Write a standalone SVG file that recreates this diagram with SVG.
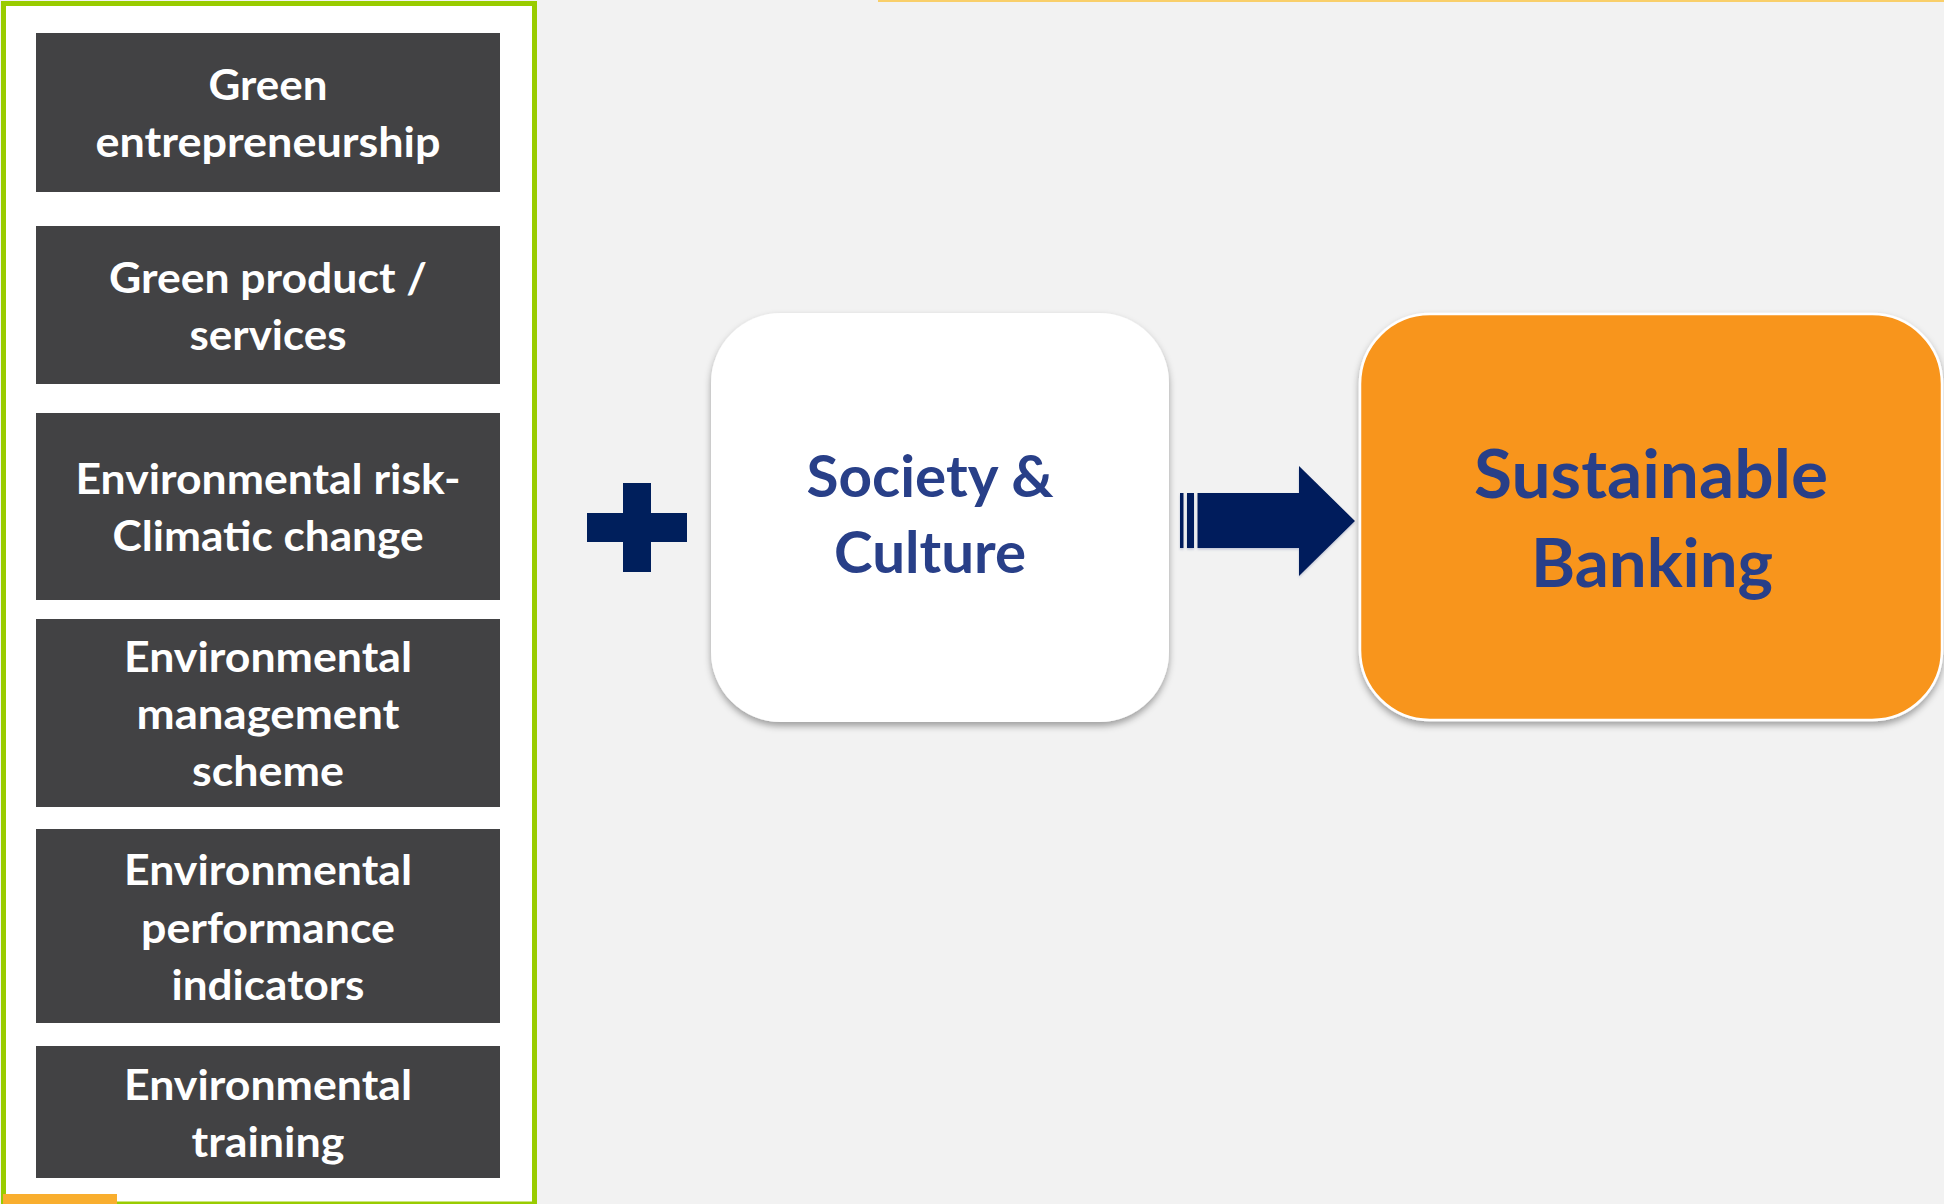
<svg xmlns="http://www.w3.org/2000/svg" width="1944" height="1204" viewBox="0 0 1944 1204">
  <style>
    .dark { fill: #424244; }
    .wt { font-family: Lato, "Open Sans", sans-serif; font-weight: 700; font-size: 42px; fill: #ffffff; text-anchor: middle; }
    .nt { font-family: Lato, "Open Sans", sans-serif; font-weight: 700; fill: #283f88; text-anchor: middle; }
    .navy { fill: #001f5c; }
  </style>
  <defs>
    <filter id="shadow" x="-10%" y="-10%" width="120%" height="125%">
      <feDropShadow dx="0" dy="4" stdDeviation="3.5" flood-color="#000000" flood-opacity="0.35"/>
    </filter>
    <filter id="ashadow" x="-10%" y="-10%" width="120%" height="130%">
      <feDropShadow dx="0" dy="1.5" stdDeviation="1" flood-color="#6070a0" flood-opacity="0.35"/>
    </filter>
  </defs>
  <rect x="0" y="0" width="1944" height="1204" fill="#f2f2f2"/>
  <rect x="878" y="0" width="1066" height="2" fill="#f9cf6a"/>

  <g id="frame">
    <rect x="3.5" y="3.5" width="531" height="1200.5" fill="#ffffff" stroke="#99cc00" stroke-width="5"/>
    <rect x="3" y="1194" width="114" height="10" fill="#f9ae2e"/>
  </g>

  <g id="node-green-entrepreneurship">
    <rect class="dark" x="36" y="33" width="464" height="159"/>
    <text class="wt" x="268" y="100" textLength="119" lengthAdjust="spacingAndGlyphs">Green</text>
    <text class="wt" x="268" y="157" textLength="345" lengthAdjust="spacingAndGlyphs">entrepreneurship</text>
  </g>
  <g id="node-green-product">
    <rect class="dark" x="36" y="226" width="464" height="158"/>
    <text class="wt" x="268" y="293" textLength="318" lengthAdjust="spacingAndGlyphs">Green product /</text>
    <text class="wt" x="268" y="350" textLength="157" lengthAdjust="spacingAndGlyphs">services</text>
  </g>
  <g id="node-env-risk">
    <rect class="dark" x="36" y="413" width="464" height="187"/>
    <text class="wt" x="268" y="494" textLength="385" lengthAdjust="spacingAndGlyphs">Environmental risk-</text>
    <text class="wt" x="268" y="551" textLength="311" lengthAdjust="spacingAndGlyphs">Climatic change</text>
  </g>
  <g id="node-env-management">
    <rect class="dark" x="36" y="619" width="464" height="188"/>
    <text class="wt" x="268" y="672" textLength="288" lengthAdjust="spacingAndGlyphs">Environmental</text>
    <text class="wt" x="268" y="729" textLength="263" lengthAdjust="spacingAndGlyphs">management</text>
    <text class="wt" x="268" y="786" textLength="152" lengthAdjust="spacingAndGlyphs">scheme</text>
  </g>
  <g id="node-env-performance">
    <rect class="dark" x="36" y="829" width="464" height="194"/>
    <text class="wt" x="268" y="885" textLength="288" lengthAdjust="spacingAndGlyphs">Environmental</text>
    <text class="wt" x="268" y="943" textLength="254" lengthAdjust="spacingAndGlyphs">performance</text>
    <text class="wt" x="268" y="1000" textLength="193" lengthAdjust="spacingAndGlyphs">indicators</text>
  </g>
  <g id="node-env-training">
    <rect class="dark" x="36" y="1046" width="464" height="132"/>
    <text class="wt" x="268" y="1100" textLength="288" lengthAdjust="spacingAndGlyphs">Environmental</text>
    <text class="wt" x="268" y="1157" textLength="153" lengthAdjust="spacingAndGlyphs">training</text>
  </g>

  <g id="plus">
    <rect class="navy" x="587" y="513" width="100" height="29"/>
    <rect class="navy" x="623" y="483" width="28" height="89"/>
  </g>

  <g id="node-society-culture">
    <rect x="711" y="313" width="458" height="409" rx="70" ry="70" fill="#ffffff" filter="url(#shadow)"/>
    <text class="nt" x="930" y="497" font-size="58" textLength="247" lengthAdjust="spacingAndGlyphs">Society &amp;</text>
    <text class="nt" x="930" y="573" font-size="58" textLength="192" lengthAdjust="spacingAndGlyphs">Culture</text>
  </g>

  <g id="connectors">
    <g id="arrow-society-to-banking" filter="url(#ashadow)">
      <rect class="navy" x="1180" y="493" width="3.5" height="55"/>
      <rect class="navy" x="1187" y="493" width="7" height="55"/>
      <polygon class="navy" points="1197.5,493 1299,493 1299,466 1355,521 1299,576 1299,548 1197.5,548"/>
    </g>
  </g>

  <g id="node-sustainable-banking">
    <rect x="1360" y="314" width="582" height="406" rx="70" ry="70" fill="#f8951b" stroke="#ffffff" stroke-width="2.5" filter="url(#shadow)"/>
    <text class="nt" x="1651" y="498" font-size="67" textLength="354" lengthAdjust="spacingAndGlyphs">Sustainable</text>
    <text class="nt" x="1652" y="587" font-size="67" textLength="242" lengthAdjust="spacingAndGlyphs">Banking</text>
  </g>
</svg>
